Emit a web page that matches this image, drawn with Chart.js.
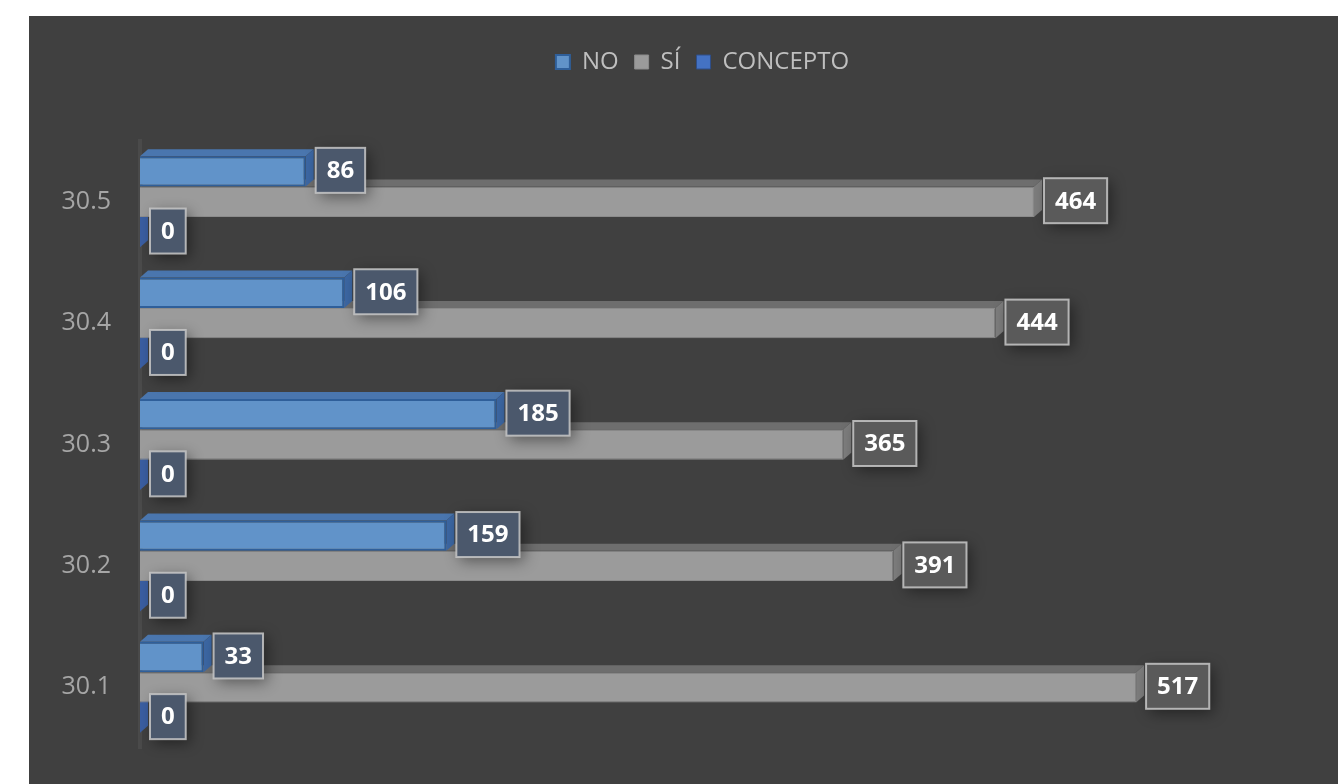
<!DOCTYPE html>
<html>
<head>
<meta charset="utf-8">
<script src="https://cdn.jsdelivr.net/npm/chart.js@4"></script>
<style>
  body { margin: 0; background: #ffffff; }
  #wrap { position: absolute; left: 29px; top: 16px; width: 1309px; height: 768px; background: #404040; }
</style>
</head>
<body>
<div id="wrap"><canvas id="myChart"></canvas></div>
<script>
const labels = ["30.1", "30.2", "30.3", "30.4", "30.5"];
const noValues = [33, 159, 185, 106, 86];
const siValues = [517, 391, 365, 444, 464];
const conceptoValues = [0, 0, 0, 0, 0];

// colours of the side faces, one per dataset
const faceColors = [
  { top: "#4a76ae", side: "#3c67a3" },
  { top: "#6e6e6e", side: "#7d7d7d" },
  { top: "#35589a", side: "#3a5ea1" },
];

// fake 3D: draw top and right faces after each dataset
const bar3d = {
  id: "bar3d",
  afterDatasetDraw(chart, args) {
    const ctx = chart.ctx;
    const c = faceColors[args.index];
    const dx = 8, dy = -7;
    args.meta.data.forEach((bar) => {
      const p = bar.getProps(["x", "y", "base", "height"], true);
      const top = p.y - p.height / 2;
      const bottom = p.y + p.height / 2;
      ctx.save();
      ctx.fillStyle = c.top;
      ctx.beginPath();
      ctx.moveTo(p.base, top);
      ctx.lineTo(p.base + dx, top + dy);
      ctx.lineTo(p.x + dx, top + dy);
      ctx.lineTo(p.x, top);
      ctx.closePath();
      ctx.fill();
      ctx.fillStyle = c.side;
      ctx.beginPath();
      ctx.moveTo(p.x, top);
      ctx.lineTo(p.x + dx, top + dy);
      ctx.lineTo(p.x + dx, bottom + dy);
      ctx.lineTo(p.x, bottom);
      ctx.closePath();
      ctx.fill();
      ctx.restore();
    });
  },
};

// value boxes next to the bars
const valueBoxes = {
  id: "valueBoxes",
  afterDatasetsDraw(chart) {
    const ctx = chart.ctx;
    chart.data.datasets.forEach((ds, i) => {
      const meta = chart.getDatasetMeta(i);
      meta.data.forEach((bar, j) => {
        const p = bar.getProps(["x", "y"], true);
        const text = String(ds.data[j]);
        ctx.save();
        ctx.font = "bold 24px 'Open Sans'";
        const w = ctx.measureText(text).width + 22;
        const h = 45;
        const left = p.x + 10;
        const top = p.y - 1 - h / 2;
        ctx.shadowColor = "rgba(0,0,0,0.45)";
        ctx.shadowBlur = 14;
        ctx.shadowOffsetX = 4;
        ctx.shadowOffsetY = 4;
        ctx.fillStyle = i === 1 ? "#5a5a5a" : "#4b586c";
        ctx.fillRect(left, top, w, h);
        ctx.shadowColor = "transparent";
        ctx.strokeStyle = "rgba(200,200,200,0.85)";
        ctx.lineWidth = 2;
        ctx.strokeRect(left, top, w, h);
        ctx.fillStyle = "#ffffff";
        ctx.textAlign = "center";
        ctx.textBaseline = "middle";
        ctx.fillText(text, left + w / 2, top + h / 2 + 1);
        ctx.restore();
      });
    });
  },
};

// the legend sits a bit right of the canvas centre in the original
const legendShift = {
  id: "legendShift",
  afterLayout(chart) {
    if (chart.legend) chart.legend.left += 80;
  },
};

new Chart(document.getElementById("myChart"), {
  type: "bar",
  data: {
    labels: labels,
    datasets: [
      { label: "NO", data: noValues, backgroundColor: "#6193c9", borderColor: "#2f5f9a", borderWidth: 2 },
      { label: "SÍ", data: siValues, backgroundColor: "#9b9b9b", borderColor: "#8c8c8c", borderWidth: 1 },
      { label: "CONCEPTO", data: conceptoValues, backgroundColor: "#4472c4", borderColor: "#2f4f8a", borderWidth: 1 },
    ],
  },
  options: {
    indexAxis: "y",
    responsive: true,
    maintainAspectRatio: false,
    animation: false,
    datasets: { bar: { categoryPercentage: 0.75, barPercentage: 1.0 } },
    layout: { padding: { top: 18, right: 42, bottom: 28, left: 0 } },
    plugins: {
      tooltip: { enabled: false },
      legend: {
        position: "top",
        labels: {
          color: "#bfbfbf",
          font: { family: "'Open Sans'", size: 24 },
          boxWidth: 14,
          boxHeight: 14,
          padding: 16,
        },
      },
    },
    scales: {
      x: {
        position: "top",
        min: 0,
        max: 600,
        grid: { display: false },
        border: { display: false },
        ticks: { display: false },
        afterFit(scale) {
          scale.height = 57;
        },
      },
      y: {
        reverse: true,
        grid: { display: false },
        border: { display: true, color: "#4a4a4a", width: 4 },
        ticks: { color: "#a6a6a6", font: { family: "'Open Sans'", size: 25 }, padding: 21 },
        afterFit(scale) {
          scale.width = 111;
        },
      },
    },
  },
  plugins: [bar3d, valueBoxes, legendShift],
});
</script>
</body>
</html>
